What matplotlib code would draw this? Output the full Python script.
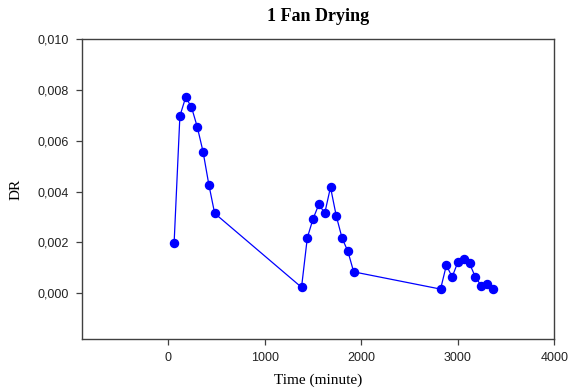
import matplotlib
matplotlib.use("Agg")
import matplotlib.pyplot as plt
from matplotlib.ticker import FuncFormatter

# Drying rate measured over time for the single-fan run
time_min = [60, 120, 180, 240, 300, 360, 420, 480,
            1380, 1440, 1500, 1560, 1620, 1680, 1740, 1800, 1860, 1920,
            2820, 2880, 2940, 3000, 3060, 3120, 3180, 3240, 3300, 3360]
drying_rate = [0.00196, 0.00698, 0.00772, 0.00733, 0.00655, 0.00557, 0.00427, 0.00314,
               0.00022, 0.00218, 0.00293, 0.00350, 0.00314, 0.00417, 0.00303, 0.00216,
               0.00164, 0.00083,
               0.00015, 0.00109, 0.00063, 0.00122, 0.00135, 0.00116, 0.00063, 0.00029,
               0.00034, 0.00017]

x_ticks = [0, 1000, 2000, 3000, 4000]
y_ticks = [0.000, 0.002, 0.004, 0.006, 0.008, 0.010]

fig = plt.figure(figsize=(5.73, 3.89), dpi=100)
ax = fig.add_axes([0.1431, 0.1298, 0.8246, 0.7687])

ax.plot(time_min, drying_rate, color="#0000ff", linewidth=0.9,
        marker="o", markersize=5.8, markerfacecolor="#0000ff",
        markeredgecolor="#0000ff")

ax.set_xlim(-894, 4000)
ax.set_ylim(-0.0018, 0.010)
ax.set_xticks(x_ticks)
ax.set_yticks(y_ticks)
ax.yaxis.set_major_formatter(FuncFormatter(lambda v, p: f"{v:.3f}".replace(".", ",")))
ax.xaxis.set_major_formatter(FuncFormatter(lambda v, p: f"{int(v)}"))

for sp in ax.spines.values():
    sp.set_color("#404040")
    sp.set_linewidth(1.0)

ax.tick_params(direction="out", length=4.5, width=0.9, color="#404040",
               labelsize=9, pad=5)
for lbl in ax.get_xticklabels() + ax.get_yticklabels():
    lbl.set_fontfamily("Liberation Sans")
    lbl.set_color("#222222")

ax.set_title("1 Fan Drying", fontfamily="Liberation Serif", fontweight="bold",
             fontsize=13, pad=13)
ax.set_xlabel("Time (minute)", fontfamily="Liberation Serif", fontsize=11, labelpad=7)
ax.set_ylabel("DR", fontfamily="Liberation Serif", fontsize=11, labelpad=11)

fig.savefig("out.png", dpi=100)
